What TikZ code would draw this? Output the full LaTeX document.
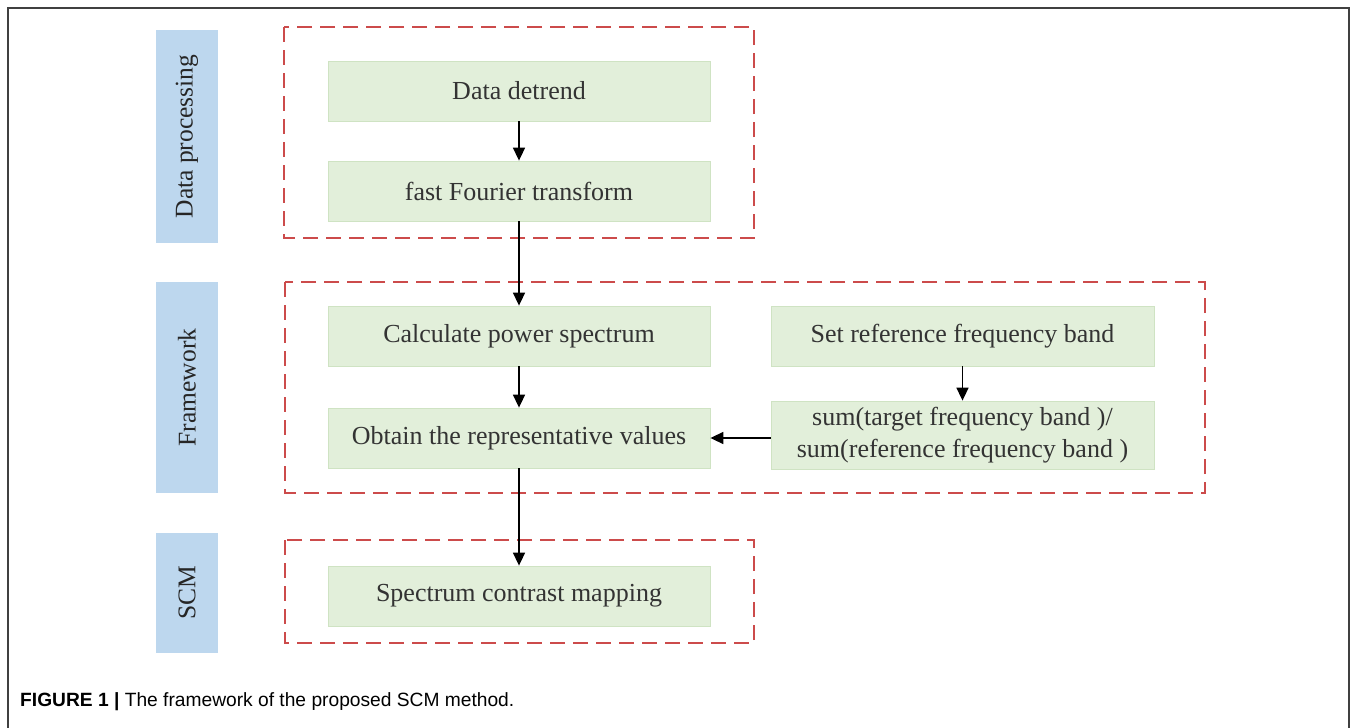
\documentclass[tikz,border=0pt]{standalone}
\usepackage{fontspec}
\setmainfont{Liberation Serif}
\newfontfamily\capfont{Liberation Sans}
\usetikzlibrary{arrows.meta}
\definecolor{gfill}{HTML}{E2EFDA}
\definecolor{gline}{HTML}{CFE3C3}
\definecolor{bfill}{HTML}{BDD7EE}
\definecolor{rdash}{HTML}{CC4B4B}
\definecolor{txt}{HTML}{333333}
\tikzset{
  gbox/.style={draw=gline, fill=gfill, line width=0.8pt, minimum width=382pt, minimum height=60pt, inner sep=0pt, align=center, text=txt, font=\fontsize{26}{32}\selectfont},
  bbox/.style={fill=bfill, minimum height=62pt, inner sep=0pt, rotate=90, text=black!85, font=\fontsize{25.5}{28}\selectfont},
  grp/.style={draw=rdash, line width=1.8pt, dash pattern=on 15pt off 8pt},
  arr/.style={line width=1.6pt, -{Triangle[length=13pt,width=12pt]}}
}
\begin{document}
\begin{tikzpicture}[x=1pt,y=-1pt]
\useasboundingbox (0,0) rectangle (1357,728);
% outer frame
\draw[line width=1.2pt, color=black!75] (8,728) -- (8,8) -- (1349,8) -- (1349,728);
% group boxes
\draw[grp] (284,27) rectangle (754,238);
\draw[grp] (285,282) rectangle (1205,493);
\draw[grp] (285,540) rectangle (754,643);
% side labels
\node[bbox, minimum width=213pt] (lab1) at (187,136.5) {Data processing};
\node[bbox, minimum width=211pt] (lab2) at (187,387.5) {Framework};
\node[bbox, minimum width=120pt] (lab3) at (187,593) {SCM};
% green boxes
\node[gbox] (dd) at (519,91) {Data detrend};
\node[gbox] (fft) at (519,191) {fast Fourier transform};
\node[gbox] (cps) at (519,336) {Calculate power spectrum};
\node[gbox] (obt) at (519,438) {Obtain the representative values};
\node[gbox, minimum width=383pt] (srf) at (962.5,336) {Set reference frequency band};
\node[gbox, minimum width=383pt, minimum height=68pt] (sum) at (962.5,435) {sum(target frequency band )/\\sum(reference frequency band )};
\node[gbox] (scm) at (519,596) {Spectrum contrast mapping};
% arrows
\draw[arr] (dd) -- (fft);
\draw[arr] (fft) -- (cps);
\draw[arr] (cps) -- (obt);
\draw[arr] (obt) -- (scm);
\draw[arr] (srf) -- (sum);
\draw[arr] (sum.west |- obt.east) -- (obt.east);
% caption
\node[anchor=base west, inner sep=0pt, font=\capfont\fontsize{19.2}{22}\selectfont] (cap) at (20,706) {\textbf{FIGURE 1 |} The framework of the proposed SCM method.};
\end{tikzpicture}
\end{document}
